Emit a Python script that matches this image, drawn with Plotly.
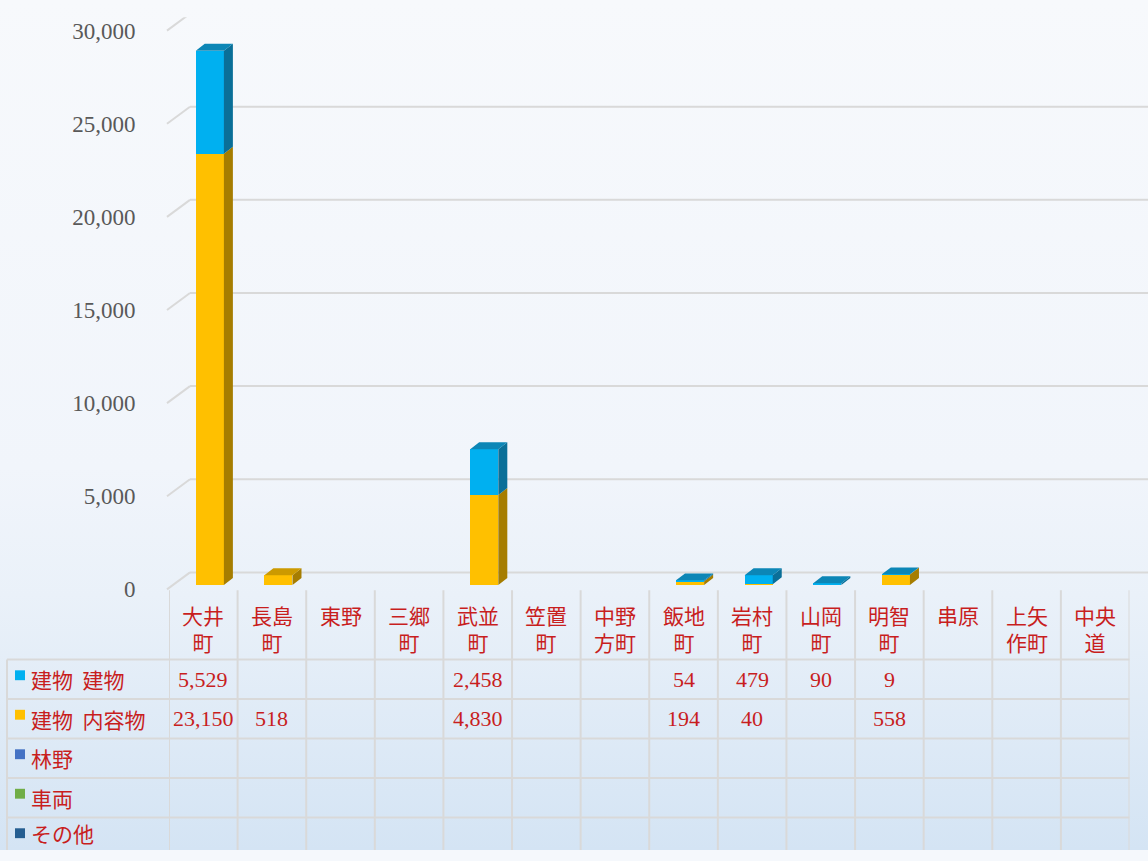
import base64
import plotly.graph_objects as go

# ---------------- data ----------------
categories = ["大井町", "長島町", "東野", "三郷町", "武並町", "笠置町", "中野方町",
              "飯地町", "岩村町", "山岡町", "明智町", "串原", "上矢作町", "中央道"]
category_labels = ["大井<br>町", "長島<br>町", "東野", "三郷<br>町", "武並<br>町", "笠置<br>町",
                   "中野<br>方町", "飯地<br>町", "岩村<br>町", "山岡<br>町", "明智<br>町", "串原",
                   "上矢<br>作町", "中央<br>道"]
series_names = ["建物\u00a0\u00a0建物", "建物\u00a0\u00a0内容物", "林野", "車両", "その他"]
tatemono = [5529, None, None, None, 2458, None, None, 54, 479, 90, 9, None, None, None]
naiyoubutsu = [23150, 518, None, None, 4830, None, None, 194, 40, None, 558, None, None, None]
rinya = [None, None, None, None, None, None, None, None, None, None, None, None, None, None]
sharyou = [None, None, None, None, None, None, None, None, None, None, None, None, None, None]
sonota = [None, None, None, None, None, None, None, None, None, None, None, None, None, None]
series_values = [tatemono, naiyoubutsu, rinya, sharyou, sonota]
y_ticks = [0, 5000, 10000, 15000, 20000, 25000, 30000]

# ---------------- styles / geometry ----------------
front_colors = ["#00B0F0", "#FFC000", "#4472C4", "#70AD47", "#255E91"]
side_colors = ["#0A6F98", "#A67D00", "#2C4F8A", "#4E7A31", "#173F63"]
top_colors = ["#0C86B6", "#CC9A00", "#3A62A8", "#5E943B", "#1E4F7A"]
RED = "#C81E1E"
GRID = "#D9D9D9"

W, H = 1148, 861
PLOT_L, PLOT_R = 169.0, 1129.5
BAR_BASE_PX = 592.5
TOP_PX = 13.0
PPU = 566.0 / 30000.0          # pixels per unit
FRONT_SHIFT = 4.5              # label plane lies below bar plane (px)
BACK_DX, BACK_DY = 23, 17      # depth of back wall (px)
CELL = (PLOT_R - PLOT_L) / len(categories)
BAR_OFFSET, BAR_WIDTH = -0.11, 0.41
DEPTH_DX = 9.0 / CELL          # data units
DEPTH_DY = 7.0 / PPU           # data units
TABLE_TOP = 598
ROW_LINES = [668, 708, 748, 788, 828]
ROW_H = 40
TABLE_LEFT = 7


def px(p):
    return p / W


def py(p):
    return 1 - p / H


y_max = (BAR_BASE_PX - TOP_PX) / PPU
pad = 2.0 / PPU  # small padding so the 0 tick sits inside the label axis range

fig = go.Figure()

# stacked bars: 内容物 at bottom, then 建物, then others
stack_order = [1, 0, 2, 3, 4]
xs = list(range(len(categories)))
for s in stack_order:
    fig.add_trace(go.Bar(
        x=xs, y=series_values[s], name=series_names[s],
        marker=dict(color=front_colors[s], line=dict(width=0)),
        offset=BAR_OFFSET, width=BAR_WIDTH, showlegend=False, hoverinfo="skip",
    ))

# 3D side and top faces derived from the data
cum = [0.0] * len(categories)
top_series = [None] * len(categories)
side_x = {s: [] for s in stack_order}
side_y = {s: [] for s in stack_order}
for s in stack_order:
    for i, v in enumerate(series_values[s]):
        if v is None:
            continue
        b = cum[i]
        t = b + v
        cum[i] = t
        top_series[i] = s
        xr = i + BAR_OFFSET + BAR_WIDTH
        side_x[s] += [xr, xr + DEPTH_DX, xr + DEPTH_DX, xr, xr, None]
        side_y[s] += [b, b + DEPTH_DY, t + DEPTH_DY, t, b, None]

for s in stack_order:
    if side_x[s]:
        fig.add_trace(go.Scatter(
            x=side_x[s], y=side_y[s], mode="lines", fill="toself",
            fillcolor=side_colors[s], line=dict(width=0), showlegend=False,
            hoverinfo="skip",
        ))

top_x = {s: [] for s in stack_order}
top_y = {s: [] for s in stack_order}
for i, s in enumerate(top_series):
    if s is None:
        continue
    t = cum[i]
    xl = i + BAR_OFFSET
    xr = xl + BAR_WIDTH
    top_x[s] += [xl, xl + DEPTH_DX, xr + DEPTH_DX, xr, xl, None]
    top_y[s] += [t, t + DEPTH_DY, t + DEPTH_DY, t, t, None]
for s in stack_order:
    if top_x[s]:
        fig.add_trace(go.Scatter(
            x=top_x[s], y=top_y[s], mode="lines", fill="toself",
            fillcolor=top_colors[s], line=dict(width=0), showlegend=False,
            hoverinfo="skip",
        ))

# invisible trace to activate the label axis (front plane)
fig.add_trace(go.Scatter(x=[0], y=[0], yaxis="y2", mode="markers",
                         marker=dict(opacity=0), showlegend=False, hoverinfo="skip"))

shapes = []
# back-wall gridlines
for v in y_ticks:
    shapes.append(dict(type="line", xref="paper", yref="y2", ysizemode="pixel", yanchor=v,
                       x0=px(PLOT_L - 2), x1=px(PLOT_L - 2 + BACK_DX), y0=0, y1=BACK_DY,
                       line=dict(color=GRID, width=2), layer="below"))
    shapes.append(dict(type="line", xref="paper", yref="y2", ysizemode="pixel", yanchor=v,
                       x0=px(PLOT_L - 2 + BACK_DX), x1=1.0, y0=BACK_DY, y1=BACK_DY,
                       line=dict(color=GRID, width=2), layer="below"))

# data table grid
for k in range(len(categories) + 1):
    shapes.append(dict(type="line", xref="x", yref="paper", x0=k - 0.5, x1=k - 0.5,
                       y0=py(TABLE_TOP), y1=0, line=dict(color=GRID, width=2)))
shapes.append(dict(type="line", xref="paper", yref="paper", x0=px(TABLE_LEFT), x1=px(TABLE_LEFT),
                   y0=py(ROW_LINES[0]), y1=0, line=dict(color=GRID, width=2)))
for r in ROW_LINES:
    shapes.append(dict(type="line", xref="paper", yref="paper", x0=px(TABLE_LEFT), x1=px(PLOT_R),
                       y0=py(r), y1=py(r), line=dict(color=GRID, width=2)))

annotations = []
for i, lab in enumerate(category_labels):
    annotations.append(dict(x=i, xref="x", y=py(606), yref="paper", yanchor="top",
                            text=lab, showarrow=False,
                            font=dict(family="Noto Sans CJK JP", size=21, color=RED)))

for r, (name, vals) in enumerate(zip(series_names, series_values)):
    yc = ROW_LINES[r] + ROW_H / 2
    last = r == len(series_names) - 1
    shapes.append(dict(type="rect", xref="paper", yref="paper",
                       x0=px(15), x1=px(25), y0=py(yc - 9), y1=py(yc + 1),
                       fillcolor=front_colors[r], line=dict(width=0)))
    # keep the last row's label box inside the figure
    annotations.append(dict(x=px(29), xref="paper", y=0 if last else py(yc), yref="paper",
                            xanchor="left", yanchor="bottom" if last else "middle",
                            text=name, showarrow=False,
                            font=dict(family="Noto Sans CJK JP", size=21, color=RED)))
    for i, v in enumerate(vals):
        if v is None:
            continue
        annotations.append(dict(x=i, xref="x", y=py(yc), yref="paper",
                                xanchor="center", yanchor="middle", text=f"{v:,}",
                                showarrow=False,
                                font=dict(family="Liberation Serif", size=22, color=RED)))

# background gradient
svg = ('<svg xmlns="http://www.w3.org/2000/svg" width="10" height="100" preserveAspectRatio="none">'
       '<defs><linearGradient id="g" x1="0" y1="0" x2="0" y2="1">'
       '<stop offset="0" stop-color="#F7F9FC"/>'
       '<stop offset="0.55" stop-color="#F1F5FB"/>'
       '<stop offset="0.70" stop-color="#EAF1F9"/>'
       '<stop offset="1" stop-color="#D4E4F4"/>'
       '</linearGradient></defs><rect width="10" height="100" fill="url(#g)"/></svg>')
bg_src = "data:image/svg+xml;base64," + base64.b64encode(svg.encode()).decode()

label_bottom_px = BAR_BASE_PX + FRONT_SHIFT + 2.0   # includes the 2px pad
label_top_px = TOP_PX + FRONT_SHIFT

fig.update_layout(
    width=W, height=H, margin=dict(l=0, r=0, t=0, b=0),
    paper_bgcolor="#F5F8FC", plot_bgcolor="rgba(0,0,0,0)",
    barmode="stack", bargap=0,
    xaxis=dict(domain=[px(PLOT_L), px(PLOT_R)], range=[-0.5, len(categories) - 0.5],
               showgrid=False, zeroline=False, showticklabels=False, showline=False, fixedrange=True),
    yaxis=dict(domain=[py(BAR_BASE_PX), py(TOP_PX)], range=[0, y_max],
               showgrid=False, zeroline=False, showticklabels=False, showline=False, fixedrange=True),
    yaxis2=dict(anchor="x", side="left", domain=[py(label_bottom_px), py(label_top_px)],
                range=[-pad, y_max],
                tickvals=y_ticks, ticktext=[f"{v:,}" for v in y_ticks],
                ticks="outside", ticklen=28, tickcolor="rgba(0,0,0,0)",
                tickfont=dict(family="Liberation Serif", size=23, color="#595959"),
                showgrid=False, zeroline=False, showline=False, fixedrange=True),
    shapes=shapes, annotations=annotations,
    images=[dict(source=bg_src, xref="paper", yref="paper", x=0, y=1, sizex=1, sizey=1,
                 sizing="stretch", xanchor="left", yanchor="top", layer="below")],
    showlegend=False,
)

# pin the figure to the window's top-left corner so page margins or scrolling
# cannot displace it
fig.write_html(
    "out.html", config={"displayModeBar": False},
    post_script=("var gd=document.getElementById('{plot_id}');"
                 "document.documentElement.style.margin='0';"
                 "document.body.style.margin='0';"
                 "document.documentElement.style.overflow='hidden';"
                 "document.body.style.background='#D4E4F4';"
                 "gd.style.position='fixed';gd.style.left='0px';gd.style.top='0px';"
                 "window.scrollTo(0,0);"),
)
